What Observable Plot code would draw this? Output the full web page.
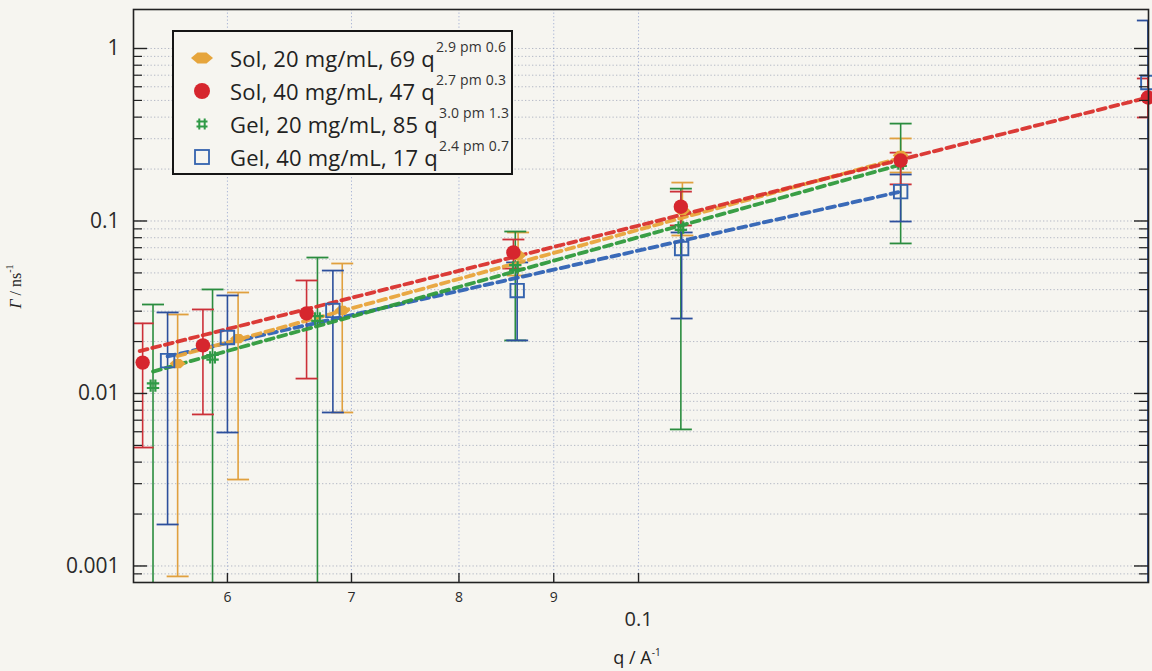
<!DOCTYPE html>
<html><head><meta charset="utf-8">
<script src="https://cdn.jsdelivr.net/npm/d3@7"></script>
<script src="https://cdn.jsdelivr.net/npm/@observablehq/plot@0.6"></script>
<style>
body{margin:0;background:#f6f5f0;}
#wrap{position:relative;width:1152px;height:671px;overflow:hidden;font-family:"Open Sans",sans-serif;color:#222;}
#wrap > svg{position:absolute;left:0;top:0;}
.legend{position:absolute;left:172px;top:30px;width:341px;height:145px;border:2px solid #151515;background:#f6f5f0;box-sizing:border-box;}
.row{position:absolute;left:0;height:30px;width:100%;}
.row svg{position:absolute;left:16px;top:4px;}
.row .lab{position:absolute;left:56px;top:0px;font-size:22px;letter-spacing:0.2px;line-height:30px;white-space:nowrap;color:#222;}
.row .lab span.sup{position:relative;top:-15px;font-size:14px;letter-spacing:0.2px;color:#333;margin-left:1px;}
.ytitle{position:absolute;left:-26px;top:276px;width:80px;text-align:center;transform:rotate(-90deg);font-family:"Liberation Serif",serif;font-size:16px;color:#222;white-space:nowrap;}
.ytitle sup,.xtitle sup{font-size:10px;vertical-align:8px;}
.xtitle{position:absolute;left:587px;top:645px;width:100px;text-align:center;font-size:18px;color:#222;white-space:nowrap;}
</style></head>
<body><div id="wrap"></div>
<script>
// ---- data ----
const seriesNames = ["Sol, 20 mg/mL", "Sol, 40 mg/mL", "Gel, 20 mg/mL", "Gel, 40 mg/mL"];
const fitLabels = ["69 q", "47 q", "85 q", "17 q"];
const fitExponents = ["2.9 pm 0.6", "2.7 pm 0.3", "3.0 pm 1.3", "2.4 pm 0.7"];

const sol20Q  = [0.0564, 0.0608, 0.0692, 0.0861, 0.1056, 0.1385];
const sol20G  = [0.0149, 0.0208, 0.0303, 0.0631, 0.115, 0.240];
const sol20Lo = [0.00087, 0.00317, 0.00776, 0.0483, 0.0824, 0.191];
const sol20Hi = [0.0287, 0.0385, 0.0567, 0.0858, 0.167, 0.301];

const sol40Q  = [0.0540, 0.0582, 0.0662, 0.0856, 0.1054, 0.1385, 0.1883];
const sol40G  = [0.0151, 0.0190, 0.0291, 0.0657, 0.121, 0.224, 0.520];
const sol40Lo = [0.00486, 0.00756, 0.0122, 0.0530, 0.0942, 0.163, 0.398];
const sol40Hi = [0.0255, 0.0307, 0.0452, 0.0781, 0.148, 0.249, 0.670];

const gel20Q  = [0.0547, 0.0589, 0.0671, 0.0858, 0.1054, 0.1385];
const gel20G  = [0.0111, 0.0162, 0.0272, 0.0538, 0.0917, 0.215];
const gel20Lo = [0.0007, 0.0007, 0.0007, 0.0203, 0.00619, 0.0741];
const gel20Hi = [0.0328, 0.0401, 0.0614, 0.0869, 0.154, 0.367];

const gel40Q  = [0.0557, 0.0600, 0.0684, 0.0860, 0.1055, 0.1385, 0.1883];
const gel40G  = [0.0155, 0.0211, 0.0303, 0.0395, 0.0693, 0.148, 0.635];
const gel40Lo = [0.00174, 0.00594, 0.00776, 0.0203, 0.0272, 0.0993, 0.0007];
const gel40Hi = [0.0295, 0.0370, 0.0516, 0.0575, 0.0858, 0.186, 1.453];

// fitted power-law lines (endpoints)
const fitQStart = [0.0564, 0.0538, 0.0547, 0.0557];
const fitQEnd   = [0.1385, 0.1883, 0.1385, 0.1385];
const fitGStart = [0.0165, 0.0176, 0.0134, 0.0164];
const fitGEnd   = [0.232, 0.520, 0.212, 0.148];

const yMajorTicks = [0.001, 0.01, 0.1, 1];
const yMinorTicks = [0.0009,
  0.002,0.003,0.004,0.005,0.006,0.007,0.008,0.009,
  0.02,0.03,0.04,0.05,0.06,0.07,0.08,0.09,
  0.2,0.3,0.4,0.5,0.6,0.7,0.8,0.9];
const xSmallTicks = [0.06, 0.07, 0.08, 0.09];
const xMainTicks = [0.1];

// ---- styling ----
const markColors = ["#e6a53c", "#d6262e", "#2f9a46", "#3463ae"];
const barColors  = ["#e0a03e", "#cc3038", "#2a8c3e", "#2c4f9c"];
const lineColors = ["#e8a43a", "#d9302c", "#2f9a3c", "#2f62b4"];

const W = 1152, H = 671, mL = 133, mR = 4, mT = 9, mB = 89;
const pw = W - mL - mR, ph = H - mT - mB;

const wideDiamond = {draw(ctx, size){ const r = Math.sqrt(size)/2;
  ctx.moveTo(-r*1.45,0); ctx.lineTo(-r*0.55,-r*0.85); ctx.lineTo(r*0.55,-r*0.85);
  ctx.lineTo(r*1.45,0); ctx.lineTo(r*0.55,r*0.85); ctx.lineTo(-r*0.55,r*0.85); ctx.closePath(); }};
const hashSym = {draw(ctx, size){ const r = Math.sqrt(size)/2, a = r*0.38;
  ctx.moveTo(-a,-r); ctx.lineTo(-a,r); ctx.moveTo(a,-r); ctx.lineTo(a,r);
  ctx.moveTo(-r,-a); ctx.lineTo(r,-a); ctx.moveTo(-r,a); ctx.lineTo(r,a); }};
const capSym = {draw(ctx, size){ const r = Math.sqrt(size)/2; ctx.moveTo(-r,0); ctx.lineTo(r,0); }};

const groups = [[sol20Q,sol20G,sol20Lo,sol20Hi],[sol40Q,sol40G,sol40Lo,sol40Hi],
                [gel20Q,gel20G,gel20Lo,gel20Hi],[gel40Q,gel40G,gel40Lo,gel40Hi]];
const tables = groups.map(([q,g,lo,hi],i) => q.map((qq,j)=>({s:i,q:qq,g:g[j],lo:lo[j],hi:hi[j]})));
const fits = seriesNames.map((n,i)=>[{q:fitQStart[i],g:fitGStart[i]},{q:fitQEnd[i],g:fitGEnd[i]}]);

const drawOrder = [0,2,3,1];
const marks = [
  Plot.gridY(yMinorTicks.concat(yMajorTicks), {stroke:"#7f88a4", strokeOpacity:0.55, strokeDasharray:"1.3,2.2"}),
  Plot.gridX(xSmallTicks.concat(xMainTicks), {stroke:"#7a8cc4", strokeOpacity:0.6, strokeDasharray:"1.3,2.2"}),
];
for (const i of drawOrder) {
  marks.push(Plot.ruleX(tables[i], {x:"q", y1:"lo", y2:"hi", stroke:barColors[i], strokeWidth:1.6, clip:true}));
  marks.push(Plot.dot(tables[i], {x:"q", y:"hi", symbol:capSym, r:12.4, stroke:barColors[i], strokeWidth:1.8, clip:true}));
  marks.push(Plot.dot(tables[i], {x:"q", y:"lo", symbol:capSym, r:12.4, stroke:barColors[i], strokeWidth:1.8, clip:true}));
}
for (const i of [3,2,0,1]) {
  marks.push(Plot.line(fits[i], {x:"q", y:"g", stroke:lineColors[i], strokeWidth:3.8, strokeDasharray:"8,5", strokeOpacity:0.95}));
}
const symbols = [wideDiamond, "circle", hashSym, "square"];
for (const i of drawOrder) {
  const filled = i < 2;
  marks.push(Plot.dot(tables[i], {x:"q", y:"g", symbol:symbols[i],
    r: i===0 ? 6.2 : i===1 ? 7.2 : i===2 ? 7 : 7.6,
    fill: filled ? markColors[i] : "none",
    stroke: filled ? "none" : markColors[i],
    strokeWidth: i===2 ? 2.2 : 1.9}));
}
// inward tick marks
marks.push(
  Plot.tickY(yMajorTicks, {y:d=>d, stroke:"#222", strokeWidth:1.4, insetRight: pw-14}),
  Plot.tickY(yMinorTicks, {y:d=>d, stroke:"#222", strokeWidth:1.2, insetRight: pw-9}),
  Plot.tickY(yMajorTicks, {y:d=>d, stroke:"#222", strokeWidth:1.4, insetLeft: pw-14}),
  Plot.tickY(yMinorTicks, {y:d=>d, stroke:"#222", strokeWidth:1.2, insetLeft: pw-9}),
  Plot.tickX(xSmallTicks.concat(xMainTicks), {x:d=>d, stroke:"#222", strokeWidth:1.4, insetTop: ph-9}),
  Plot.axisY(yMajorTicks, {tickSize:0, tickPadding:14, tickFormat:d=>String(d), fontSize:21, fill:"#2a2a2a", label:null}),
  Plot.axisX(xSmallTicks, {tickSize:0, tickPadding:10, tickFormat:d=>String(Math.round(d*100)), fontSize:14, fill:"#2a2a2a", label:null}),
  Plot.axisX(xMainTicks, {tickSize:0, tickPadding:29, tickFormat:d=>String(d), fontSize:20, fill:"#2a2a2a", label:null}),
  Plot.frame({stroke:"#222", strokeWidth:1.6})
);

const chart = Plot.plot({
  width: W, height: H,
  marginLeft: mL, marginRight: mR, marginTop: mT, marginBottom: mB,
  x: {type:"log", domain:[0.05339, 0.18845]},
  y: {type:"log", domain:[0.000802, 1.683]},
  style: {background:"transparent", fontFamily:"Open Sans, sans-serif"},
  marks
});
const wrap = document.getElementById("wrap");
wrap.appendChild(chart);

// legend
const legend = document.createElement("div");
legend.className = "legend";
const symSvg = [
  `<path d="M1,11 L7.5,5.5 L16.5,5.5 L23,11 L16.5,16.5 L7.5,16.5 Z" fill="${markColors[0]}"/>`,
  `<circle cx="12" cy="11" r="8" fill="${markColors[1]}"/>`,
  `<path d="M9.3,5.5V16.5M14.7,5.5V16.5M6.5,8.6H17.5M6.5,13.4H17.5" stroke="${markColors[2]}" stroke-width="2" fill="none"/>`,
  `<rect x="5" y="4" width="14" height="14" fill="none" stroke="${markColors[3]}" stroke-width="1.8"/>`
];
seriesNames.forEach((name,i)=>{
  const row = document.createElement("div");
  row.className = "row";
  row.style.top = (11 + i*33) + "px";
  row.innerHTML = `<svg width="24" height="22">${symSvg[i]}</svg><span class="lab">${name}, ${fitLabels[i]}<span class="sup">${fitExponents[i]}</span></span>`;
  legend.appendChild(row);
});
wrap.appendChild(legend);

const yt = document.createElement("div");
yt.className = "ytitle";
yt.innerHTML = `<i>Γ</i> / ns<sup>-1</sup>`;
wrap.appendChild(yt);
const xt = document.createElement("div");
xt.className = "xtitle";
xt.innerHTML = `q / A<sup>-1</sup>`;
wrap.appendChild(xt);
</script>
</body></html>
